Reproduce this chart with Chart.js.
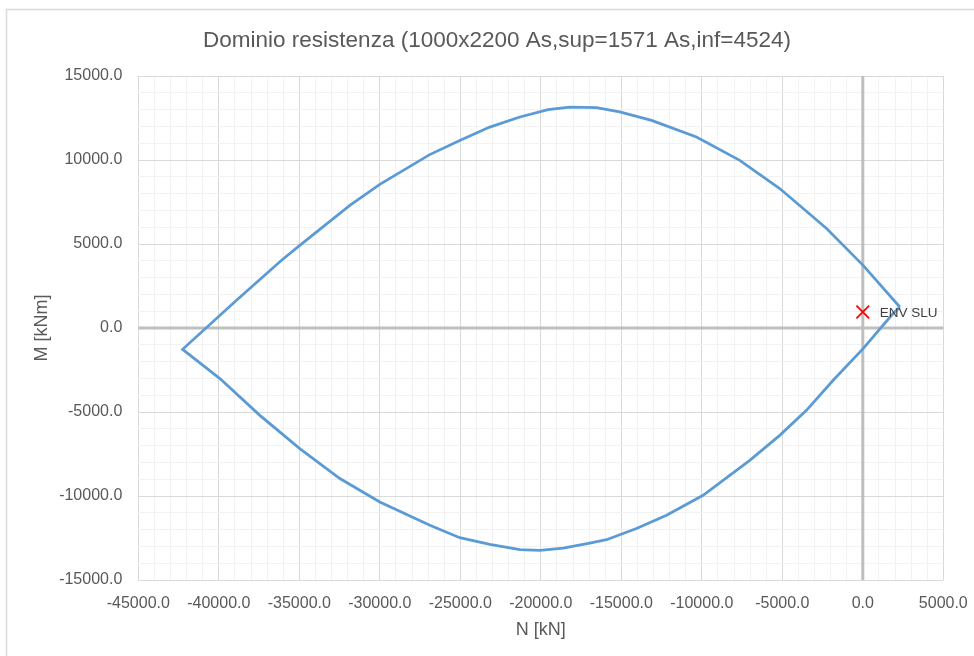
<!DOCTYPE html>
<html>
<head>
<meta charset="utf-8">
<script src="https://cdn.jsdelivr.net/npm/chart.js@4/dist/chart.umd.min.js"></script>
<style>
  html, body { margin: 0; padding: 0; background: #ffffff; }
  #wrap { position: relative; width: 974px; height: 656px; }
</style>
</head>
<body>
<div id="wrap"><canvas id="c" width="974" height="656"></canvas></div>
<script>
// ---- data ----
const titleText = 'Dominio resistenza (1000x2200 As,sup=1571 As,inf=4524)';
const xTitle = 'N [kN]';
const yTitle = 'M [kNm]';

// interaction domain outline, N [kN]
const domainN = [2300, 20, -2250, -5160, -7640, -10330, -13120, -15100, -16540, -18200, -19550,
  -21300, -23170, -25000, -26900, -30000, -31860, -34970, -36100, -38900, -42250,
  -39930, -37450, -34970, -32480, -30000, -26890, -25030, -23170, -21300, -20060,
  -18610, -16960, -15920, -14060, -12190, -9920, -7020, -5160, -3500, -1840, 20, 1880, 2300];
// interaction domain outline, M [kNm]
const domainM = [1250, 3730, 5920, 8300, 9980, 11370, 12360, 12860, 13120, 13150, 13000,
  12560, 11960, 11170, 10320, 8550, 7300, 4920, 4030, 1650, -1270,
  -3010, -5200, -7180, -8960, -10360, -11740, -12480, -12880, -13190, -13230,
  -13100, -12800, -12600, -11940, -11150, -9960, -7880, -6390, -4900, -3110, -1230, 860, 1250];

// design action
const envLabel = 'ENV SLU';
const envN = [0];
const envM = [950];

// axes
const xMin = -45000, xMax = 5000, xMajor = 5000, xMinor = 1000;
const yMin = -15000, yMax = 15000, yMajor = 5000, yMinor = 1000;
const xTickLabels = ['-45000.0','-40000.0','-35000.0','-30000.0','-25000.0','-20000.0','-15000.0','-10000.0','-5000.0','0.0','5000.0'];
const yTickLabels = ['-15000.0','-10000.0','-5000.0','0.0','5000.0','10000.0','15000.0'];

// ---- chart ----
const FONT = "'Liberation Sans', Arial, sans-serif";
const textGrey = '#595959';

const domainPts = domainN.map((n, i) => ({x: n, y: domainM[i]}));
const envPts = envN.map((n, i) => ({x: n, y: envM[i]}));

function isMajor(v, step) { return Math.abs(Math.round(v / step) * step - v) < 1e-6; }

const frame = {
  id: 'frame',
  beforeDraw(chart) {
    const ctx = chart.ctx;
    ctx.save();
    ctx.strokeStyle = '#d9d9d9';
    ctx.lineWidth = 1.5;
    ctx.beginPath();
    ctx.moveTo(6.5, chart.height);
    ctx.lineTo(6.5, 9.5);
    ctx.lineTo(chart.width, 9.5);
    ctx.stroke();
    // chart title
    ctx.font = '22.5px ' + FONT;
    ctx.fillStyle = textGrey;
    ctx.textAlign = 'center';
    ctx.textBaseline = 'middle';
    ctx.fillText(titleText, 497, 41);
    ctx.restore();
  }
};

const zeroLines = {
  id: 'zeroLines',
  beforeDatasetsDraw(chart) {
    const {ctx, chartArea: a, scales: {x, y}} = chart;
    const px = x.getPixelForValue(0), py = y.getPixelForValue(0);
    ctx.save();
    ctx.strokeStyle = '#bfbfbf';
    ctx.lineWidth = 3;
    ctx.beginPath();
    ctx.moveTo(px, a.top); ctx.lineTo(px, a.bottom);
    ctx.moveTo(a.left, py); ctx.lineTo(a.right, py);
    ctx.stroke();
    ctx.restore();
  }
};

const pointLabel = {
  id: 'pointLabel',
  afterDatasetsDraw(chart) {
    const {ctx, scales: {x, y}} = chart;
    ctx.save();
    ctx.font = '13.5px ' + FONT;
    ctx.fillStyle = '#404040';
    ctx.textAlign = 'left';
    ctx.textBaseline = 'middle';
    envPts.forEach(p => {
      ctx.fillText(envLabel, x.getPixelForValue(p.x) + 17, y.getPixelForValue(p.y) + 1);
    });
    ctx.restore();
  }
};

new Chart(document.getElementById('c'), {
  type: 'scatter',
  data: {
    datasets: [
      {
        label: 'Dominio',
        data: domainPts,
        showLine: true,
        borderColor: '#5b9bd5',
        backgroundColor: '#5b9bd5',
        borderWidth: 2.75,
        pointRadius: 0,
        tension: 0,
        order: 2
      },
      {
        label: envLabel,
        data: envPts,
        showLine: false,
        pointStyle: 'crossRot',
        pointRadius: 9,
        borderColor: '#ff0000',
        backgroundColor: '#ff0000',
        borderWidth: 1.8,
        order: 1
      }
    ]
  },
  plugins: [frame, zeroLines, pointLabel],
  options: {
    responsive: false,
    animation: false,
    layout: { padding: { left: 0, right: 30.7, top: 76, bottom: 0 } },
    plugins: {
      legend: { display: false },
      tooltip: { enabled: false },
      title: { display: false }
    },
    scales: {
      x: {
        type: 'linear',
        min: xMin, max: xMax,
        afterFit(s) { s.height = 76; s.paddingLeft = 0; s.paddingRight = 0; },
        border: { display: false },
        grid: {
          drawTicks: false,
          color: c => isMajor(c.tick.value, xMajor) ? '#d9d9d9' : '#f2f2f2',
          lineWidth: 1
        },
        ticks: {
          stepSize: xMinor,
          maxTicksLimit: 200,
          autoSkip: false,
          maxRotation: 0,
          padding: 14,
          color: textGrey,
          font: { family: FONT, size: 16 },
          callback: v => isMajor(v, xMajor) ? xTickLabels[Math.round((v - xMin) / xMajor)] : ''
        },
        title: {
          display: true,
          text: xTitle,
          color: textGrey,
          font: { family: FONT, size: 18 },
          padding: { top: 0, bottom: 14.7 }
        }
      },
      y: {
        type: 'linear',
        min: yMin, max: yMax,
        afterFit(s) { s.width = 138.3; s.paddingTop = 0; s.paddingBottom = 0; },
        border: { display: false },
        grid: {
          drawTicks: false,
          color: c => isMajor(c.tick.value, yMajor) ? '#d9d9d9' : '#f2f2f2',
          lineWidth: 1
        },
        ticks: {
          stepSize: yMinor,
          maxTicksLimit: 200,
          autoSkip: false,
          padding: 16,
          color: textGrey,
          font: { family: FONT, size: 16 },
          callback: v => isMajor(v, yMajor) ? yTickLabels[Math.round((v - yMin) / yMajor)] : ''
        },
        title: {
          display: true,
          text: yTitle,
          color: textGrey,
          font: { family: FONT, size: 18 },
          padding: { top: 31, bottom: 0 }
        }
      }
    }
  }
});
</script>
</body>
</html>
